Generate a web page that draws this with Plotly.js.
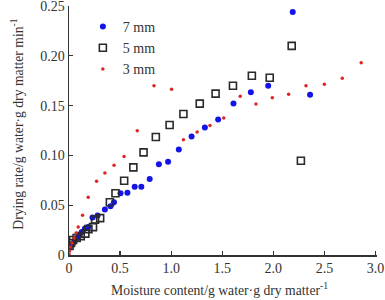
<!DOCTYPE html>
<html>
<head>
<meta charset="utf-8">
<script src="https://cdn.plot.ly/plotly-3.0.1.min.js"></script>
<style>
  html, body { margin: 0; padding: 0; background: #fff; }
  #chart { width: 385px; height: 300px; }
</style>
</head>
<body>
<div id="chart"></div>
<script>
// Drying rate versus moisture content for three slice thicknesses
const moisture7 = [0.005, 0.02, 0.04, 0.06, 0.08, 0.10, 0.125, 0.156, 0.188, 0.23, 0.28, 0.351, 0.406, 0.44, 0.504, 0.572, 0.643, 0.708, 0.79, 0.88, 0.97, 1.075, 1.20, 1.33, 1.46, 1.61, 1.78, 1.95, 2.19, 2.36];
const rate7 = [0.008, 0.010, 0.012, 0.015, 0.017, 0.020, 0.023, 0.0266, 0.028, 0.0376, 0.0396, 0.0456, 0.049, 0.053, 0.062, 0.0626, 0.0686, 0.0686, 0.0763, 0.091, 0.0937, 0.106, 0.119, 0.128, 0.136, 0.152, 0.1635, 0.170, 0.244, 0.161];

const moisture5 = [0.005, 0.02, 0.04, 0.075, 0.115, 0.16, 0.19, 0.235, 0.255, 0.305, 0.40, 0.455, 0.54, 0.63, 0.73, 0.85, 0.985, 1.12, 1.28, 1.435, 1.605, 1.79, 1.965, 2.18, 2.27];
const rate5 = [0.009, 0.012, 0.015, 0.017, 0.019, 0.0215, 0.026, 0.028, 0.0355, 0.037, 0.053, 0.062, 0.0745, 0.088, 0.103, 0.1185, 0.1305, 0.1415, 0.152, 0.162, 0.170, 0.180, 0.178, 0.210, 0.0947];

const moisture3 = [0.0, 0.005, 0.015, 0.03, 0.05, 0.07, 0.09, 0.133, 0.188, 0.27, 0.351, 0.441, 0.539, 0.668, 0.832, 1.004, 1.12, 1.254, 1.38, 1.515, 1.676, 1.83, 1.99, 2.15, 2.32, 2.50, 2.675, 2.86];
const rate3 = [0.001, 0.004, 0.008, 0.012, 0.017, 0.022, 0.028, 0.040, 0.058, 0.074, 0.0824, 0.090, 0.099, 0.1247, 0.170, 0.1665, 0.1157, 0.1234, 0.130, 0.1375, 0.1595, 0.1515, 0.158, 0.1615, 0.170, 0.1715, 0.1775, 0.193];

const seriesNames = ['7 mm', '5 mm', '3 mm'];

const xTickVals = [0, 0.5, 1.0, 1.5, 2.0, 2.5, 3.0];
const xTickText = ['0', '0.5', '1.0', '1.5', '2.0', '2.5', '3.0'];
const yTickVals = [0, 0.05, 0.10, 0.15, 0.20, 0.25];
const yTickText = ['0', '0.05', '0.10', '0.15', '0.20', '0.25'];

const xTitle = 'Moisture content/g water·g dry matter<sup>-1</sup>';
const yTitle = 'Drying rate/g water·g dry matter min<sup>-1</sup>';

const serif = 'Liberation Serif, Times New Roman, serif';

const traces = [
  {
    x: moisture7, y: rate7, name: seriesNames[0],
    type: 'scatter', mode: 'markers',
    marker: { symbol: 'circle', size: 6, color: '#1414e6' }
  },
  {
    x: moisture5, y: rate5, name: seriesNames[1],
    type: 'scatter', mode: 'markers',
    marker: { symbol: 'square-open', size: 7, color: '#2a2a2a', line: { width: 1.6 } }
  },
  {
    x: moisture3, y: rate3, name: seriesNames[2],
    type: 'scatter', mode: 'markers',
    marker: { symbol: 'circle', size: 3.5, color: '#e02424' }
  }
];

const axisCommon = {
  showgrid: false,
  zeroline: false,
  showline: true,
  linecolor: '#333',
  linewidth: 1.5,
  ticks: 'inside',
  ticklen: 4,
  tickwidth: 1.3,
  tickcolor: '#333',
  ticklabeloverflow: 'allow',
  tickfont: { family: serif, size: 14, color: '#333' }
};

// Axis titles are placed as annotations so they can sit a little lower / higher
// than Plotly's automatic title placement allows.
const titleFont = { family: serif, size: 13.7, color: '#333' };

const layout = {
  width: 385,
  height: 300,
  margin: { l: 69, r: 8, t: 6, b: 45 },
  paper_bgcolor: '#fff',
  plot_bgcolor: '#fff',
  font: { family: serif, color: '#333' },
  showlegend: true,
  legend: {
    x: 0.045, y: 0.98, xanchor: 'left', yanchor: 'top',
    bgcolor: 'rgba(0,0,0,0)',
    font: { family: serif, size: 14, color: '#333' },
    itemwidth: 30
  },
  xaxis: Object.assign({}, axisCommon, {
    range: [0, 3.015],
    tickvals: xTickVals,
    ticktext: xTickText
  }),
  yaxis: Object.assign({}, axisCommon, {
    range: [0, 0.25],
    tickvals: yTickVals,
    ticktext: yTickText
  }),
  annotations: [
    {
      text: xTitle, xref: 'paper', yref: 'paper',
      x: 0.488, y: -0.138, xanchor: 'center', yanchor: 'middle',
      showarrow: false, font: titleFont
    },
    {
      text: yTitle, xref: 'paper', yref: 'paper',
      x: -0.169, y: 0.527, xanchor: 'center', yanchor: 'middle',
      textangle: -90, showarrow: false, font: titleFont
    }
  ]
};

Plotly.newPlot('chart', traces, layout, { displayModeBar: false, staticPlot: true });
</script>
</body>
</html>
